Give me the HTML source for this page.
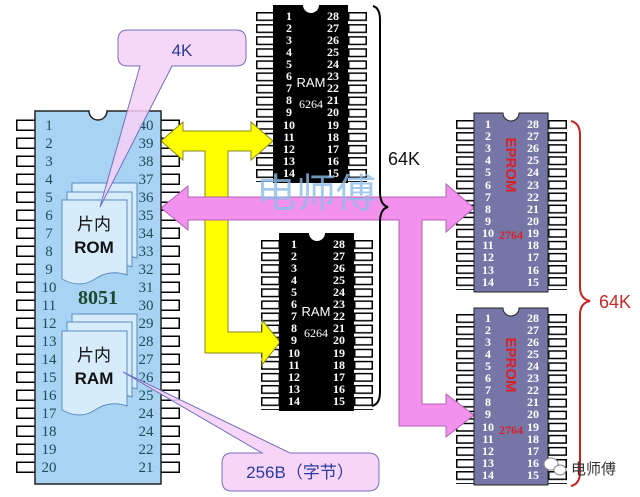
<!DOCTYPE html>
<html><head><meta charset="utf-8"><style>
html,body{margin:0;padding:0;background:#fff;}
svg{display:block;}
.n8{font-family:"Liberation Serif",serif;font-size:15px;fill:#1d4d5a;}
.nw{font-family:"Liberation Serif",serif;font-size:12px;font-weight:bold;fill:#fff;}
</style></head><body>
<svg width="640" height="497" viewBox="0 0 640 497" xmlns="http://www.w3.org/2000/svg">
<defs>
<pattern id="p18" patternUnits="userSpaceOnUse" width="20" height="18"><rect x="0.75" y="0.75" width="18.5" height="10" fill="#fff" stroke="#000" stroke-width="1.5"/></pattern>
<pattern id="p12" patternUnits="userSpaceOnUse" width="20" height="12.08"><rect x="0.75" y="0.75" width="17.5" height="7.5" fill="#fff" stroke="#000" stroke-width="1.5"/></pattern>
</defs>

<rect x="0" y="0" width="20" height="360" fill="url(#p18)" transform="translate(16,119.5)"/>
<rect x="0" y="0" width="20" height="360" fill="url(#p18)" transform="translate(160,119.5)"/>
<rect x="0" y="0" width="20" height="170" fill="url(#p12)" transform="translate(256,12)"/>
<rect x="0" y="0" width="20" height="170" fill="url(#p12)" transform="translate(348,12)"/>
<rect x="0" y="0" width="20" height="170" fill="url(#p12)" transform="translate(261,240)"/>
<rect x="0" y="0" width="20" height="170" fill="url(#p12)" transform="translate(354,240)"/>
<rect x="0" y="0" width="20" height="170" fill="url(#p12)" transform="translate(456,120)"/>
<rect x="0" y="0" width="20" height="170" fill="url(#p12)" transform="translate(548,120)"/>
<rect x="0" y="0" width="20" height="170" fill="url(#p12)" transform="translate(456,314)"/>
<rect x="0" y="0" width="20" height="170" fill="url(#p12)" transform="translate(548,314)"/>

<path d="M161,141 L183,122 L183,131 L251,131 L251,122 L273,141 L251,160 L251,151 L228,151 L228,332 L262,332 L262,320 L280,342 L262,365 L262,353 L205,353 L205,151 L183,151 L183,160 Z" fill="#ffff00" stroke="#8a8a20" stroke-width="1"/>
<path d="M161,208 L188,186 L188,197 L446,197 L446,184 L474,208 L446,232 L446,220 L422,220 L422,404 L446,404 L446,394 L474,415 L446,437 L446,426 L399,426 L399,220 L188,220 L188,230 Z" fill="#f292ee" stroke="#b060b0" stroke-width="1"/>

<path d="M35,111 H89 A9,9 0 0 0 107,111 H161 V484 H35 Z" fill="#a9d3f2" stroke="#222" stroke-width="1.5"/>
<text class="n8" text-anchor="middle">
<tspan x="49" y="130">1</tspan><tspan x="49" y="148">2</tspan><tspan x="49" y="166">3</tspan><tspan x="49" y="184">4</tspan><tspan x="49" y="202">5</tspan><tspan x="49" y="220">6</tspan><tspan x="49" y="238">7</tspan><tspan x="49" y="256">8</tspan><tspan x="49" y="274">9</tspan><tspan x="49" y="292">10</tspan><tspan x="49" y="310">11</tspan><tspan x="49" y="328">12</tspan><tspan x="49" y="346">13</tspan><tspan x="49" y="364">14</tspan><tspan x="49" y="382">15</tspan><tspan x="49" y="400">16</tspan><tspan x="49" y="418">17</tspan><tspan x="49" y="436">18</tspan><tspan x="49" y="454">19</tspan><tspan x="49" y="472">20</tspan>
</text>
<text class="n8" text-anchor="middle">
<tspan x="146" y="130">40</tspan><tspan x="146" y="148">39</tspan><tspan x="146" y="166">38</tspan><tspan x="146" y="184">37</tspan><tspan x="146" y="202">36</tspan><tspan x="146" y="220">35</tspan><tspan x="146" y="238">34</tspan><tspan x="146" y="256">33</tspan><tspan x="146" y="274">32</tspan><tspan x="146" y="292">31</tspan><tspan x="146" y="310">30</tspan><tspan x="146" y="328">29</tspan><tspan x="146" y="346">28</tspan><tspan x="146" y="364">27</tspan><tspan x="146" y="382">26</tspan><tspan x="146" y="400">25</tspan><tspan x="146" y="418">24</tspan><tspan x="146" y="436">24</tspan><tspan x="146" y="454">22</tspan><tspan x="146" y="472">21</tspan>
</text>
<text x="98" y="304" text-anchor="middle" font-family="Liberation Serif,serif" font-weight="bold" font-size="20" fill="#1c4a30">8051</text>

<g fill="#d6ecfb" stroke="#5a8cc0" stroke-width="1">
<path d="M72,183 H137 V258 Q120,252 105,262 Q90,272 72,262 Z"/>
<path d="M67,192 H132 V267 Q115,261 100,271 Q85,281 67,271 Z"/>
<path d="M62,200 H127 V275 Q110,269 95,279 Q80,289 62,279 Z"/>
<path d="M72,314 H137 V389 Q120,383 105,393 Q90,403 72,393 Z"/>
<path d="M67,322 H132 V397 Q115,391 100,401 Q85,411 67,401 Z"/>
<path d="M62,331 H127 V406 Q110,400 95,410 Q80,420 62,410 Z"/>
</g>
<g font-family="Liberation Sans,'Noto Sans CJK SC',sans-serif" font-size="17" fill="#111" text-anchor="middle">
<text x="94" y="230">片内</text>
<text x="94" y="253" font-weight="bold">ROM</text>
<text x="94" y="361">片内</text>
<text x="94" y="384" font-weight="bold">RAM</text>
</g>

<path d="M273,5 H303 A8,8 0 0 0 319,5 H348 V183 H273 Z" fill="#000"/>
<text class="nw" text-anchor="middle">
<tspan x="289" y="20">1</tspan><tspan x="289" y="32">2</tspan><tspan x="289" y="44">3</tspan><tspan x="289" y="56">4</tspan><tspan x="289" y="68">5</tspan><tspan x="289" y="80">6</tspan><tspan x="289" y="92">7</tspan><tspan x="289" y="104">8</tspan><tspan x="289" y="116">9</tspan><tspan x="289" y="129">10</tspan><tspan x="289" y="141">11</tspan><tspan x="289" y="153">12</tspan><tspan x="289" y="165">13</tspan><tspan x="289" y="177">14</tspan>
</text>
<text class="nw" text-anchor="middle">
<tspan x="333" y="20">28</tspan><tspan x="333" y="32">27</tspan><tspan x="333" y="44">26</tspan><tspan x="333" y="56">25</tspan><tspan x="333" y="68">24</tspan><tspan x="333" y="80">23</tspan><tspan x="333" y="92">22</tspan><tspan x="333" y="104">21</tspan><tspan x="333" y="116">20</tspan><tspan x="333" y="129">19</tspan><tspan x="333" y="141">18</tspan><tspan x="333" y="153">17</tspan><tspan x="333" y="165">16</tspan><tspan x="333" y="177">15</tspan>
</text>
<text x="311" y="87" text-anchor="middle" font-family="Liberation Sans,sans-serif" font-size="13" fill="#fff">RAM</text>
<text x="311" y="108" text-anchor="middle" font-family="Liberation Serif,serif" font-size="12" fill="#fff">6264</text>

<path d="M279,233 H309 A8,8 0 0 0 325,233 H354 V411 H279 Z" fill="#000"/>
<text class="nw" text-anchor="middle">
<tspan x="294" y="248">1</tspan><tspan x="294" y="260">2</tspan><tspan x="294" y="272">3</tspan><tspan x="294" y="284">4</tspan><tspan x="294" y="296">5</tspan><tspan x="294" y="308">6</tspan><tspan x="294" y="320">7</tspan><tspan x="294" y="332">8</tspan><tspan x="294" y="344">9</tspan><tspan x="294" y="357">10</tspan><tspan x="294" y="369">11</tspan><tspan x="294" y="381">12</tspan><tspan x="294" y="393">13</tspan><tspan x="294" y="405">14</tspan>
</text>
<text class="nw" text-anchor="middle">
<tspan x="339" y="248">28</tspan><tspan x="339" y="260">27</tspan><tspan x="339" y="272">26</tspan><tspan x="339" y="284">25</tspan><tspan x="339" y="296">24</tspan><tspan x="339" y="308">23</tspan><tspan x="339" y="320">22</tspan><tspan x="339" y="332">21</tspan><tspan x="339" y="344">20</tspan><tspan x="339" y="357">19</tspan><tspan x="339" y="369">18</tspan><tspan x="339" y="381">17</tspan><tspan x="339" y="393">16</tspan><tspan x="339" y="405">15</tspan>
</text>
<text x="316" y="316" text-anchor="middle" font-family="Liberation Sans,sans-serif" font-size="13" fill="#fff">RAM</text>
<text x="316" y="337" text-anchor="middle" font-family="Liberation Serif,serif" font-size="12" fill="#fff">6264</text>

<path d="M474,113 H503 A8,8 0 0 0 519,113 H548 V292 H474 Z" fill="#7676a6" stroke="#222" stroke-width="1"/>
<text class="nw" text-anchor="middle">
<tspan x="488" y="128">1</tspan><tspan x="488" y="140">2</tspan><tspan x="488" y="152">3</tspan><tspan x="488" y="164">4</tspan><tspan x="488" y="176">5</tspan><tspan x="488" y="189">6</tspan><tspan x="488" y="201">7</tspan><tspan x="488" y="213">8</tspan><tspan x="488" y="225">9</tspan><tspan x="488" y="237">10</tspan><tspan x="488" y="249">11</tspan><tspan x="488" y="261">12</tspan><tspan x="488" y="274">13</tspan><tspan x="488" y="286">14</tspan>
</text>
<text class="nw" text-anchor="middle">
<tspan x="533" y="128">28</tspan><tspan x="533" y="140">27</tspan><tspan x="533" y="152">26</tspan><tspan x="533" y="164">25</tspan><tspan x="533" y="176">24</tspan><tspan x="533" y="189">23</tspan><tspan x="533" y="201">22</tspan><tspan x="533" y="213">21</tspan><tspan x="533" y="225">20</tspan><tspan x="533" y="237">19</tspan><tspan x="533" y="249">18</tspan><tspan x="533" y="261">17</tspan><tspan x="533" y="274">16</tspan><tspan x="533" y="286">15</tspan>
</text>
<text transform="translate(506,165) rotate(90)" text-anchor="middle" font-family="Liberation Sans,sans-serif" font-weight="bold" font-size="15" fill="#d8202a">EPROM</text>
<text x="511" y="239" text-anchor="middle" font-family="Liberation Serif,serif" font-weight="bold" font-size="12" fill="#d8202a">2764</text>

<path d="M474,308 H503 A8,8 0 0 0 519,308 H548 V485 H474 Z" fill="#7676a6" stroke="#222" stroke-width="1"/>
<text class="nw" text-anchor="middle">
<tspan x="488" y="322">1</tspan><tspan x="488" y="334">2</tspan><tspan x="488" y="346">3</tspan><tspan x="488" y="358">4</tspan><tspan x="488" y="370">5</tspan><tspan x="488" y="382">6</tspan><tspan x="488" y="394">7</tspan><tspan x="488" y="406">8</tspan><tspan x="488" y="418">9</tspan><tspan x="488" y="431">10</tspan><tspan x="488" y="443">11</tspan><tspan x="488" y="455">12</tspan><tspan x="488" y="467">13</tspan><tspan x="488" y="479">14</tspan>
</text>
<text class="nw" text-anchor="middle">
<tspan x="533" y="322">28</tspan><tspan x="533" y="334">27</tspan><tspan x="533" y="346">26</tspan><tspan x="533" y="358">25</tspan><tspan x="533" y="370">24</tspan><tspan x="533" y="382">23</tspan><tspan x="533" y="394">22</tspan><tspan x="533" y="406">21</tspan><tspan x="533" y="418">20</tspan><tspan x="533" y="431">19</tspan><tspan x="533" y="443">18</tspan><tspan x="533" y="455">17</tspan><tspan x="533" y="467">16</tspan><tspan x="533" y="479">15</tspan>
</text>
<text transform="translate(506,365) rotate(90)" text-anchor="middle" font-family="Liberation Sans,sans-serif" font-weight="bold" font-size="15" fill="#d8202a">EPROM</text>
<text x="511" y="434" text-anchor="middle" font-family="Liberation Serif,serif" font-weight="bold" font-size="12" fill="#d8202a">2764</text>

<path d="M373,6 Q380,8 380,20 V192 Q380,205 388,207 Q380,209 380,222 V392 Q380,404 372,406" fill="none" stroke="#000" stroke-width="2"/>
<text x="388" y="165" font-family="Liberation Sans,sans-serif" font-size="18" fill="#111">64K</text>
<path d="M571,121 Q580,123 580,135 V287 Q580,299 590,301 Q580,303 580,315 V472 Q580,484 571,486" fill="none" stroke="#cc2020" stroke-width="2"/>
<text x="599" y="308" font-family="Liberation Sans,sans-serif" font-size="18" fill="#c82828">64K</text>

<text x="256" y="207" font-family="'Noto Sans CJK SC',sans-serif" font-size="40" fill="#8cbbe8" fill-opacity="0.8">电师傅</text>

<path d="M128,30 H236 Q246,30 246,40 V57 Q246,66 236,66 H172 L100,207 L140,66 H128 Q118,66 118,57 V40 Q118,30 128,30 Z" fill="#f6d0f6" fill-opacity="0.85" stroke="#7070c0" stroke-width="1"/>
<text x="182" y="56" text-anchor="middle" font-family="Liberation Sans,sans-serif" font-size="17" fill="#2a3c9c">4K</text>
<path d="M232,453 H262 L123,372 L290,453 H368 Q379,453 379,463 V481 Q379,491 368,491 H232 Q222,491 222,481 V463 Q222,453 232,453 Z" fill="#f6d0f6" fill-opacity="0.9" stroke="#7070c0" stroke-width="1"/>
<text x="300" y="478" text-anchor="middle" font-family="Liberation Sans,'Noto Sans CJK SC',sans-serif" font-size="17" fill="#2a3c9c">256B（字节）</text>

<g fill="#fff" stroke="#888" stroke-width="1">
<ellipse cx="551" cy="464" rx="7" ry="6"/><ellipse cx="560" cy="470" rx="6" ry="5"/>
</g>
<text x="571" y="474" font-family="'Noto Sans CJK SC',sans-serif" font-size="15" fill="#333">电师傅</text>
</svg>
</body></html>
